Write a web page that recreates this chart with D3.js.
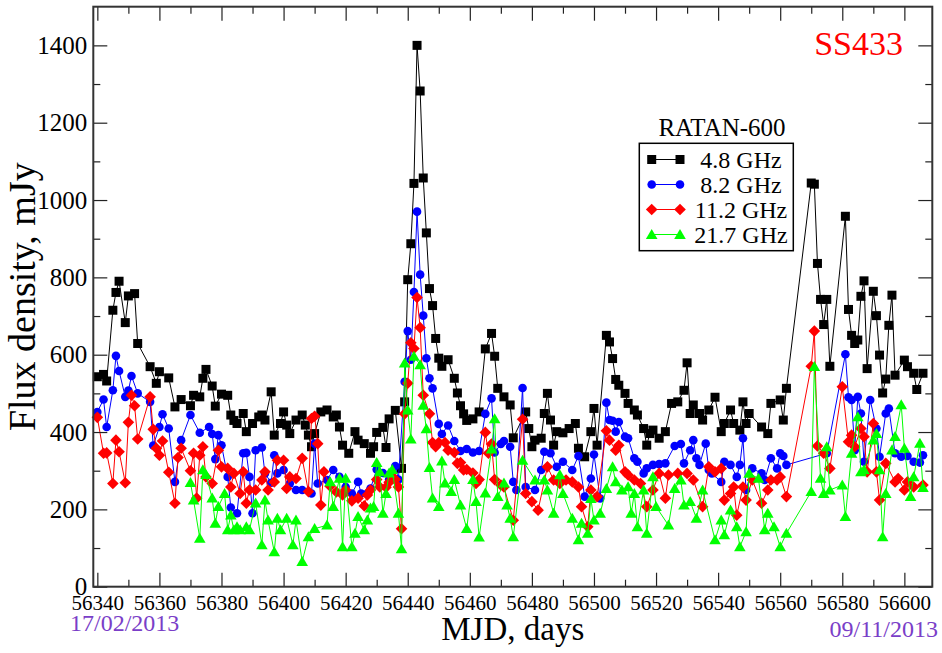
<!DOCTYPE html>
<html>
<head>
<meta charset="utf-8">
<script src="https://cdn.jsdelivr.net/npm/d3@7/dist/d3.min.js"></script>
<style>
  body { margin: 0; background: #fff; }
  svg { display: block; }
  text { font-family: "Liberation Serif", "Times New Roman", serif; }
</style>
</head>
<body>
<svg id="chart" width="942" height="653"></svg>
<script>
// RATAN-600 light curves of SS433, [MJD, flux density mJy]
const s48 = [[56340,543],[56342,549],[56343,532],[56345,715],[56346,761],[56347,790],[56349,683],[56350,752],[56352,758],[56353,629],
  [56357,569],[56359,526],[56360,556],[56363,540],[56365,465],[56367,484],[56370,468],[56371,495],[56373,491],[56374,539],
  [56375,562],[56377,519],[56378,467],[56380,498],[56382,495],[56383,444],[56384,430],[56385,422],[56387,448],[56388,401],
  [56390,422],[56392,439],[56393,444],[56394,431],[56396,504],[56397,392],[56399,422],[56400,452],[56401,418],[56402,396],
  [56404,431],[56406,444],[56407,418],[56408,392],[56409,362],[56410,396],[56412,452],[56414,457],[56416,439],[56417,444],
  [56418,413],[56419,366],[56421,345],[56423,401],[56424,379],[56426,370],[56428,345],[56429,362],[56430,399],[56432,412],
  [56433,360],[56434,434],[56436,456],[56438,306],[56439,478],[56440,794],[56441,887],[56442,1043],[56443,1400],[56444,1282],
  [56445,1057],[56446,915],[56447,771],[56448,727],[56449,642],[56450,591],[56451,570],[56453,587],[56455,539],[56456,501],
  [56457,468],[56458,447],[56459,430],[56461,434],[56463,452],[56465,615],[56467,655],[56468,596],[56469,513],[56471,491],
  [56473,470],[56474,385],[56478,452],[56479,409],[56480,362],[56481,379],[56483,384],[56484,448],[56485,500],[56486,431],
  [56487,366],[56488,401],[56490,398],[56492,409],[56494,422],[56495,358],[56497,336],[56499,401],[56500,461],[56501,366],
  [56504,650],[56505,633],[56506,590],[56507,536],[56508,521],[56510,500],[56511,474],[56513,457],[56514,444],[56516,409],
  [56517,366],[56518,396],[56519,405],[56521,384],[56523,401],[56525,474],[56527,478],[56529,508],[56530,579],[56531,448],
  [56532,470],[56534,448],[56535,431],[56537,457],[56539,490],[56541,401],[56542,422],[56544,457],[56545,422],[56547,405],
  [56548,478],[56549,422],[56550,448],[56554,413],[56556,396],[56557,474],[56560,483],[56561,431],[56562,513],[56570,1044],
  [56571,1041],[56572,836],[56573,743],[56574,678],[56575,743],[56576,570],[56581,958],[56582,717],[56583,650],[56584,629],
  [56585,638],[56586,751],[56587,791],[56588,564],[56590,764],[56591,701],[56592,599],[56593,501],[56594,537],[56595,676],
  [56596,754],[56597,547],[56600,586],[56601,569],[56603,552],[56604,510],[56606,552]];

const s82 = [[56340,452],[56342,484],[56343,413],[56345,508],[56346,597],[56347,558],[56349,491],[56350,507],[56351,545],[56353,500],
  [56357,478],[56358,365],[56360,413],[56361,446],[56363,409],[56365,271],[56367,379],[56370,444],[56373,398],[56376,413],
  [56377,395],[56378,330],[56379,392],[56380,366],[56382,284],[56383,205],[56385,190],[56387,345],[56388,346],[56389,284],
  [56390,190],[56391,353],[56393,360],[56394,293],[56396,269],[56397,340],[56398,293],[56400,302],[56402,267],[56404,250],
  [56406,250],[56409,241],[56410,370],[56411,267],[56414,276],[56416,302],[56418,284],[56420,258],[56422,241],[56424,271],
  [56425,241],[56427,241],[56428,254],[56430,303],[56432,294],[56434,277],[56436,312],[56437,277],[56439,530],[56440,661],
  [56441,587],[56442,762],[56443,970],[56444,807],[56445,701],[56446,591],[56447,539],[56448,513],[56450,421],[56451,395],
  [56453,417],[56455,377],[56457,351],[56459,356],[56461,347],[56463,351],[56465,447],[56467,487],[56468,347],[56470,369],
  [56471,377],[56473,362],[56474,271],[56475,250],[56477,514],[56478,258],[56481,250],[56483,302],[56484,349],[56486,345],
  [56488,310],[56490,323],[56493,302],[56495,338],[56497,233],[56499,280],[56500,342],[56502,228],[56504,476],[56505,431],
  [56506,429],[56507,401],[56508,426],[56510,388],[56511,384],[56513,332],[56514,323],[56516,293],[56517,306],[56519,315],
  [56521,317],[56523,319],[56526,364],[56528,369],[56529,319],[56531,353],[56532,379],[56533,332],[56534,315],[56536,370],
  [56537,302],[56538,293],[56541,271],[56542,323],[56544,315],[56546,284],[56547,315],[56548,384],[56549,250],[56551,306],
  [56554,293],[56555,276],[56557,332],[56559,306],[56560,345],[56561,338],[56562,315],[56575,345],[56581,601],[56582,490],
  [56583,483],[56584,353],[56585,491],[56586,448],[56587,323],[56589,483],[56591,409],[56592,336],[56594,448],[56595,461],
  [56597,345],[56599,336],[56601,338],[56603,323],[56605,321],[56606,340]];

const s112 = [[56340,438],[56342,345],[56343,346],[56345,267],[56346,379],[56347,349],[56349,269],[56350,425],[56351,495],[56352,468],
  [56353,382],[56357,491],[56358,407],[56359,358],[56360,340],[56361,377],[56363,296],[56365,216],[56366,334],[56367,358],
  [56370,300],[56371,345],[56372,229],[56373,340],[56374,362],[56375,284],[56377,267],[56379,353],[56380,310],[56382,306],
  [56383,258],[56384,293],[56386,241],[56387,297],[56388,216],[56389,250],[56391,250],[56393,276],[56394,297],[56395,250],
  [56397,271],[56398,327],[56400,327],[56401,254],[56402,284],[56404,280],[56406,332],[56408,246],[56409,435],[56410,441],
  [56411,370],[56412,211],[56413,297],[56415,260],[56417,245],[56419,237],[56420,250],[56422,222],[56424,229],[56426,209],
  [56427,237],[56428,250],[56430,277],[56431,258],[56433,257],[56434,270],[56435,284],[56436,277],[56437,258],[56438,150],
  [56439,447],[56440,526],[56441,631],[56442,616],[56443,748],[56444,670],[56445,495],[56447,447],[56448,373],[56449,362],
  [56450,373],[56452,373],[56453,353],[56455,347],[56456,319],[56457,321],[56458,302],[56459,303],[56461,294],[56462,267],
  [56463,277],[56465,399],[56466,345],[56467,369],[56468,277],[56470,263],[56471,258],[56474,172],[56477,433],[56478,241],
  [56480,220],[56482,198],[56485,310],[56487,276],[56489,267],[56491,276],[56493,271],[56495,258],[56496,207],[56498,155],
  [56499,250],[56501,233],[56504,403],[56505,379],[56507,353],[56508,366],[56510,297],[56511,289],[56513,276],[56515,267],
  [56517,207],[56519,250],[56521,293],[56523,229],[56524,289],[56527,293],[56530,293],[56532,276],[56535,207],[56537,310],
  [56539,297],[56541,306],[56542,224],[56544,241],[56545,258],[56546,185],[56548,258],[56549,224],[56551,276],[56554,216],
  [56556,250],[56557,276],[56559,276],[56560,284],[56562,233],[56570,570],[56571,661],[56572,364],[56574,345],[56576,306],
  [56580,517],[56582,375],[56583,392],[56584,362],[56586,409],[56587,388],[56588,297],[56590,422],[56591,297],[56592,224],
  [56594,319],[56597,271],[56598,280],[56600,250],[56601,271],[56603,258],[56606,263]];

const s217 = [[56370,269],[56371,224],[56373,125],[56374,302],[56375,290],[56377,229],[56378,164],[56379,207],[56381,241],[56382,147],
  [56383,185],[56384,147],[56385,155],[56386,147],[56388,155],[56389,147],[56391,216],[56393,108],[56394,224],[56395,172],
  [56397,90],[56398,177],[56399,147],[56401,177],[56403,108],[56404,172],[56406,65],[56408,129],[56410,150],[56414,159],
  [56415,271],[56416,207],[56418,280],[56419,103],[56420,280],[56422,103],[56423,138],[56424,181],[56426,147],[56427,172],
  [56428,203],[56429,207],[56430,321],[56431,297],[56432,190],[56433,241],[56434,294],[56435,303],[56437,190],[56438,98],
  [56439,578],[56440,457],[56441,382],[56442,596],[56444,574],[56445,469],[56446,408],[56447,308],[56448,229],[56450,207],
  [56451,325],[56452,268],[56454,246],[56455,277],[56457,211],[56459,150],[56461,277],[56462,220],[56463,128],[56465,242],
  [56467,356],[56468,434],[56469,233],[56471,268],[56472,211],[56473,177],[56474,129],[56477,327],[56481,276],[56484,276],
  [56485,250],[56487,190],[56489,289],[56490,241],[56493,177],[56495,121],[56496,164],[56498,138],[56499,228],[56500,172],
  [56502,190],[56504,254],[56506,310],[56507,271],[56509,250],[56511,258],[56512,190],[56513,241],[56514,155],[56516,250],
  [56517,138],[56519,284],[56520,207],[56524,159],[56526,254],[56528,276],[56529,211],[56531,220],[56533,177],[56535,250],
  [56539,121],[56541,172],[56542,134],[56544,198],[56546,155],[56547,103],[56549,142],[56550,293],[56553,280],[56555,147],
  [56556,190],[56558,155],[56560,103],[56562,138],[56570,246],[56571,569],[56573,280],[56574,241],[56575,362],[56576,250],
  [56580,263],[56581,181],[56583,345],[56585,439],[56586,297],[56587,302],[56590,379],[56591,396],[56592,302],[56593,129],
  [56594,241],[56596,353],[56597,388],[56599,470],[56600,358],[56602,233],[56603,284],[56605,371],[56606,256]];

const seriesNames = ["4.8 GHz", "8.2 GHz", "11.2 GHz", "21.7 GHz"];
const seriesColors = ["#000000", "#0000ff", "#ff0000", "#00ff00"];
const seriesShapes = ["square", "circle", "diamond", "triangle"];
const seriesData = [s48, s82, s112, s217];

const xMajorTicks = d3.range(56340, 56601, 20);
const xMinorTicks = d3.range(56350, 56609, 20);
const yMajorTicks = d3.range(0, 1401, 200);
const yMinorTicks = d3.range(100, 1500, 200);

const svg = d3.select("#chart");
const frame = { left: 93.3, right: 932.3, top: 6.7, bottom: 586.7 };

const x = d3.scaleLinear().domain([56338.7, 56609]).range([frame.left, frame.right]);
const y = d3.scaleLinear().domain([0, 1500]).range([frame.bottom, frame.top]);

// marker paths centred on 0,0
function marker(shape) {
  if (shape === "square") return "M-4.5,-4.5H4.5V4.5H-4.5Z";
  if (shape === "circle") return "M4.3,0A4.3,4.3 0 1,1 -4.3,0A4.3,4.3 0 1,1 4.3,0Z";
  if (shape === "diamond") return "M0,-5.8L5.8,0L0,5.8L-5.8,0Z";
  return "M0,-5.6L5.8,4.4L-5.8,4.4Z";
}

const line = d3.line().x(d => x(d[0])).y(d => y(d[1]));

seriesData.forEach((data, i) => {
  const g = svg.append("g");
  g.append("path")
    .datum(data)
    .attr("d", line)
    .attr("fill", "none")
    .attr("stroke", seriesColors[i])
    .attr("stroke-width", 1);
  g.selectAll("path.m")
    .data(data)
    .join("path")
    .attr("class", "m")
    .attr("d", marker(seriesShapes[i]))
    .attr("transform", d => `translate(${x(d[0])},${y(d[1])})`)
    .attr("fill", seriesColors[i]);
});

// axes, ticks pointing inward on all four sides
function styleAxis(g) {
  g.select(".domain").remove();
  g.selectAll(".tick line").attr("stroke", "#222").attr("stroke-width", 1.2);
}

svg.append("g").attr("transform", `translate(0,${frame.bottom})`)
  .call(d3.axisBottom(x).tickValues(xMajorTicks).tickSize(-14).tickPadding(8).tickFormat(d3.format("d")))
  .call(styleAxis)
  .selectAll("text").attr("font-size", 21).attr("fill", "#000")
  .style("font-family", '"Liberation Serif", serif');
svg.append("g").attr("transform", `translate(0,${frame.bottom})`)
  .call(d3.axisBottom(x).tickValues(xMinorTicks).tickSize(-7).tickFormat(""))
  .call(styleAxis);
svg.append("g").attr("transform", `translate(0,${frame.top})`)
  .call(d3.axisTop(x).tickValues(xMajorTicks).tickSize(-14).tickFormat(""))
  .call(styleAxis);
svg.append("g").attr("transform", `translate(0,${frame.top})`)
  .call(d3.axisTop(x).tickValues(xMinorTicks).tickSize(-7).tickFormat(""))
  .call(styleAxis);

svg.append("g").attr("transform", `translate(${frame.left},0)`)
  .call(d3.axisLeft(y).tickValues(yMajorTicks).tickSize(-14).tickPadding(6).tickFormat(d3.format("d")))
  .call(styleAxis)
  .selectAll("text").attr("font-size", 25).attr("fill", "#000")
  .style("font-family", '"Liberation Serif", serif');
svg.append("g").attr("transform", `translate(${frame.left},0)`)
  .call(d3.axisLeft(y).tickValues(yMinorTicks).tickSize(-7).tickFormat(""))
  .call(styleAxis);
svg.append("g").attr("transform", `translate(${frame.right},0)`)
  .call(d3.axisRight(y).tickValues(yMajorTicks).tickSize(-14).tickFormat(""))
  .call(styleAxis);
svg.append("g").attr("transform", `translate(${frame.right},0)`)
  .call(d3.axisRight(y).tickValues(yMinorTicks).tickSize(-7).tickFormat(""))
  .call(styleAxis);

svg.append("rect")
  .attr("x", frame.left).attr("y", frame.top)
  .attr("width", frame.right - frame.left).attr("height", frame.bottom - frame.top)
  .attr("fill", "none").attr("stroke", "#333").attr("stroke-width", 2);

// titles
svg.append("text")
  .attr("x", (frame.left + frame.right) / 2).attr("y", 640)
  .attr("text-anchor", "middle").attr("font-size", 33)
  .text("MJD, days");
svg.append("text")
  .attr("transform", `translate(35,${(frame.top + frame.bottom) / 2}) rotate(-90)`)
  .attr("text-anchor", "middle").attr("font-size", 38)
  .text("Flux density, mJy");
svg.append("text")
  .attr("x", 903).attr("y", 55)
  .attr("text-anchor", "end").attr("font-size", 34).attr("fill", "#ff0000")
  .text("SS433");
svg.append("text")
  .attr("x", 70).attr("y", 631)
  .attr("font-size", 24).attr("fill", "#7a3ec8")
  .text("17/02/2013");
svg.append("text")
  .attr("x", 938).attr("y", 637)
  .attr("text-anchor", "end").attr("font-size", 24).attr("fill", "#7a3ec8")
  .text("09/11/2013");

// legend
const legend = svg.append("g");
legend.append("text")
  .attr("x", 722).attr("y", 136)
  .attr("text-anchor", "middle").attr("font-size", 25)
  .text("RATAN-600");
legend.append("rect")
  .attr("x", 639.3).attr("y", 143.3).attr("width", 154).attr("height", 107.4)
  .attr("fill", "#fff").attr("stroke", "#000").attr("stroke-width", 1.5);
seriesNames.forEach((name, i) => {
  const cy = 159.5 + i * 25;
  legend.append("line")
    .attr("x1", 651.7).attr("x2", 680).attr("y1", cy).attr("y2", cy)
    .attr("stroke", seriesColors[i]).attr("stroke-width", 1);
  [651.7, 680].forEach(mx => {
    legend.append("path")
      .attr("d", marker(seriesShapes[i]))
      .attr("transform", `translate(${mx},${cy})`)
      .attr("fill", seriesColors[i]);
  });
  legend.append("text")
    .attr("x", 741).attr("y", cy + 8)
    .attr("text-anchor", "middle").attr("font-size", 24)
    .text(name);
});
</script>
</body>
</html>
